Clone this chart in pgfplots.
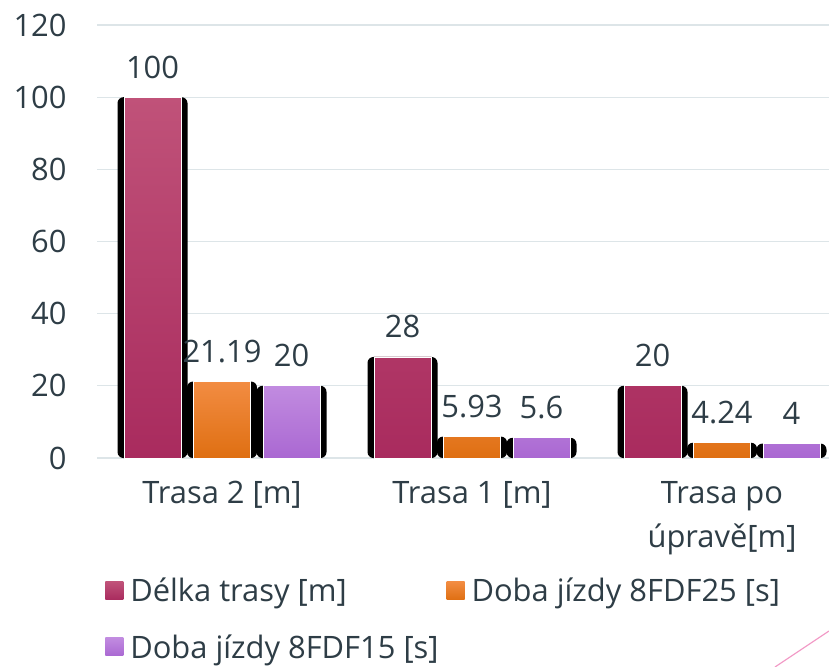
\documentclass[border=0pt]{standalone}
\usepackage{pgfplots}
\pgfplotsset{compat=1.18}
\usepackage{fontspec}
\setmainfont{Open Sans}
\definecolor{txt}{HTML}{2E3D46}
\definecolor{gridc}{HTML}{DDE5E8}
\definecolor{redT}{HTML}{C05279}
\definecolor{redB}{HTML}{A92B5E}
\definecolor{orT}{HTML}{F28C42}
\definecolor{orB}{HTML}{DF6F12}
\definecolor{puT}{HTML}{C18BE0}
\definecolor{puB}{HTML}{AA68D2}
\definecolor{pinkline}{HTML}{F29AC6}
\begin{document}
\begin{tikzpicture}
\useasboundingbox (0bp,0bp) rectangle (829bp,-667bp);
\begin{axis}[
  at={(97bp,-458bp)}, anchor=south west,
  scale only axis, width=732bp, height=433bp,
  xmin=-0.5, xmax=2.428, ymin=0, ymax=120,
  clip=false,
  axis line style={draw=none},
  major tick length=0pt,
  ymajorgrids, grid style={color=gridc, line width=1.3bp},
  ytick={0,20,40,60,80,100,120},
  xtick={0,1,2},
  xticklabels={Trasa 2 [m], Trasa 1 [m], {Trasa po\\úpravě[m]}},
  /pgf/number format/assume math mode=true,
  every tick label/.append style={font=\fontsize{31}{44}\selectfont, text=txt},
  yticklabel style={xshift=-27bp},
  xticklabel style={align=center, yshift=-20bp},
  legend columns=2,
  legend cell align=left,
  legend style={draw=none, fill=none, inner sep=0pt,
    at={(axis description cs:0.011,-0.2725)}, anchor=north west,
    font=\fontsize{31}{37}\selectfont, text=txt,
    nodes={inner xsep=7bp, inner ysep=2bp},
    row sep=27bp,
    /tikz/every even column/.append style={column sep=1bp}},
  legend image code/.code={\path[#1, draw=none] (0bp,-9bp) rectangle (18bp,9bp);},
  nodes near coords style={font=\fontsize{31}{37}\selectfont, text=txt, anchor=south, yshift=15bp},
]
% black backing bars
\addplot[ybar, bar width=0.28, bar shift=-0.278, fill=black, draw=none, rounded corners=6bp, forget plot]
  coordinates {(0,100) (1,28) (2,20)};
\addplot[ybar, bar width=0.28, bar shift=0, fill=black, draw=none, rounded corners=6bp, forget plot]
  coordinates {(0,21.19) (1,5.93) (2,4.24)};
\addplot[ybar, bar width=0.28, bar shift=0.278, fill=black, draw=none, rounded corners=6bp, forget plot]
  coordinates {(0,20) (1,5.6) (2,4)};
% coloured bars
\addplot[ybar, bar width=0.228, bar shift=-0.278, top color=redT, bottom color=redB, draw=white, line width=0.8bp,
  point meta=explicit symbolic, nodes near coords,
  every node near coord/.append style={xshift=-69.5bp}]
  coordinates {(0,100) [100] (1,28) [28] (2,20) [20]};
\addlegendentry{Délka trasy [m]}
\addplot[ybar, bar width=0.228, bar shift=0, top color=orT, bottom color=orB, draw=white, line width=0.8bp,
  point meta=explicit symbolic, nodes near coords]
  coordinates {(0,21.19) [21.19] (1,5.93) [5.93] (2,4.24) [4.24]};
\addlegendentry{Doba jízdy 8FDF25 [s]}
\addplot[ybar, bar width=0.228, bar shift=0.278, top color=puT, bottom color=puB, draw=white, line width=0.8bp,
  point meta=explicit symbolic, nodes near coords,
  every node near coord/.append style={xshift=69.5bp}]
  coordinates {(0,20) [20] (1,5.6) [5.6] (2,4) [4]};
\addlegendentry{Doba jízdy 8FDF15 [s]}
\end{axis}
\draw[color=pinkline, line width=1.2bp] (775bp,-667bp) -- (829bp,-631bp);
\end{tikzpicture}
\end{document}
